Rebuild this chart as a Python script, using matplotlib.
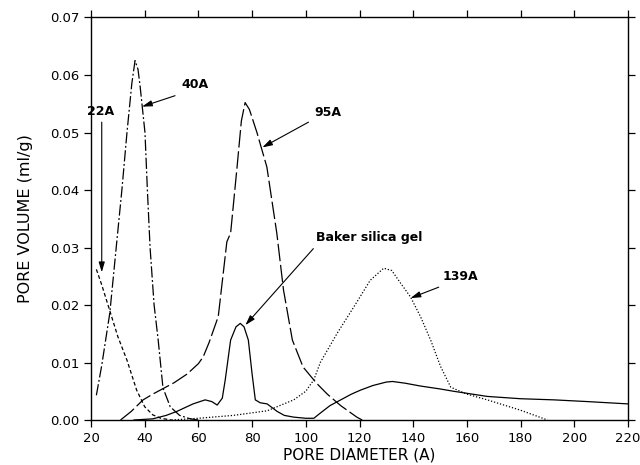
import matplotlib
matplotlib.use("Agg")
import matplotlib.pyplot as plt

# ---- data ----
x22 = [22, 24, 27, 30, 33.4, 37, 40, 43, 46, 50]
y22 = [0.0262, 0.0235, 0.019, 0.0145, 0.0104, 0.0052, 0.0023, 0.0009, 0.0003, 0.0]

x40 = [22, 24, 27, 29.6, 31.5, 33.4, 35.2, 36.4, 37.5, 38.3, 40.1, 41, 42, 43.5, 45, 46.8, 49.5, 53, 57, 60]
y40 = [0.0043, 0.0095, 0.0186, 0.031, 0.040, 0.050, 0.0585, 0.0625, 0.061, 0.058, 0.050, 0.040, 0.030, 0.020,
       0.014, 0.0056, 0.0023, 0.0008, 0.0002, 0.0]

x95 = [31, 35, 39.4, 43, 47, 51, 55.8, 60, 61.8, 64, 67.4, 70.6, 72, 74.4, 76, 77.4, 79, 81.8, 85.5, 89.2,
       91.7, 95, 99, 104, 108, 113, 119, 121]
y95 = [0.0, 0.0015, 0.0035, 0.0045, 0.0055, 0.0065, 0.008, 0.0098, 0.011, 0.0135, 0.018, 0.031, 0.0325,
       0.044, 0.052, 0.0552, 0.054, 0.050, 0.044, 0.0325, 0.0226, 0.0139, 0.0092, 0.0064, 0.0045, 0.0025,
       0.0005, 0.0]

xbak = [36, 43, 48, 52, 58, 62.5, 65, 67, 68.9, 70, 72, 74, 75.6, 77, 78.6, 80, 81.2, 83, 85.6, 89.3, 92,
        95.5, 100, 103, 105.4, 109, 113, 117, 120.4, 125, 130, 132.3, 137, 142.8, 150, 155, 167.6, 180,
        192.5, 205, 220]
ybak = [0.0, 0.0002, 0.0008, 0.0015, 0.0028, 0.0035, 0.0032, 0.0026, 0.0038, 0.007, 0.0139, 0.0162,
        0.0168, 0.0162, 0.0139, 0.008, 0.0035, 0.003, 0.0028, 0.0015, 0.0008, 0.0005, 0.0003, 0.0003,
        0.0012, 0.0025, 0.0035, 0.0045, 0.0052, 0.006, 0.0066, 0.0067, 0.0064, 0.0059, 0.0054, 0.005,
        0.0041, 0.0037, 0.0035, 0.0032, 0.0028]

x139 = [50, 60, 73, 85.6, 95.5, 100, 103, 105.4, 111.7, 117.8, 124, 129, 132, 135.3, 139, 142.8, 146.5,
        150.2, 154, 160, 167.6, 180, 190]
y139 = [0.0, 0.0003, 0.0008, 0.0016, 0.0035, 0.005, 0.007, 0.0100, 0.0151, 0.0196, 0.0243, 0.0264,
        0.026, 0.0238, 0.0214, 0.0179, 0.0139, 0.0093, 0.0057, 0.0045, 0.0035, 0.0017, 0.0]

xticks = [20, 40, 60, 80, 100, 120, 140, 160, 180, 200, 220]
yticks = [0.00, 0.01, 0.02, 0.03, 0.04, 0.05, 0.06, 0.07]

labels = ["22A", "40A", "95A", "Baker silica gel", "139A"]
label_xy = [(23.5, 0.0536), (58.9, 0.0583), (108.4, 0.0535), (123.7, 0.0318), (157.7, 0.0250)]
arrow_from = [(24, 0.0518), (51.3, 0.0564), (101, 0.0518), (102.8, 0.0298), (149.5, 0.0231)]
arrow_to = [(24, 0.0257), (39, 0.0545), (83.8, 0.0474), (77.5, 0.0165), (139, 0.0212)]

# ---- figure ----
fig = plt.figure(figsize=(6.4, 4.65), dpi=100)
ax = fig.add_axes([91/640, 1 - 420/465, (628-91)/640, (420-17.5)/465])

lc = "black"
ax.plot(x22, y22, color=lc, lw=0.9, dashes=(3, 2))
ax.plot(x40, y40, color=lc, lw=0.9, dashes=(9, 2, 1.5, 2))
ax.plot(x95, y95, color=lc, lw=0.9, dashes=(14, 3))
ax.plot(xbak, ybak, color=lc, lw=0.9)
ax.plot(x139, y139, color=lc, lw=0.9, dashes=(1, 1.5))

for lab, (tx, ty), (fx, fy), (ax_, ay_) in zip(labels, label_xy, arrow_from, arrow_to):
    ax.text(tx, ty, lab, ha="center", va="center", fontsize=9, fontweight="semibold")
    ax.annotate("", xy=(ax_, ay_), xytext=(fx, fy),
                arrowprops=dict(arrowstyle="-|>,head_length=0.6,head_width=0.18",
                                color=lc, lw=0.8, shrinkA=0, shrinkB=0))

ax.set_xlim(20, 220)
ax.set_ylim(0, 0.07)
ax.set_xticks(xticks)
ax.set_yticks(yticks)
ax.set_xticklabels([str(v) for v in xticks], fontsize=9.5)
ax.set_yticklabels([f"{v:.2f}" for v in yticks], fontsize=9.5)
ax.tick_params(direction="out", length=5, width=0.9, top=True, right=True,
               labeltop=False, labelright=False)
for s in ax.spines.values():
    s.set_linewidth(1.0)

ax.set_xlabel("PORE DIAMETER (A)", fontsize=11, labelpad=2)
ax.set_ylabel("PORE VOLUME (ml/g)", fontsize=11.5, labelpad=12)

fig.savefig("out.png", dpi=100)
